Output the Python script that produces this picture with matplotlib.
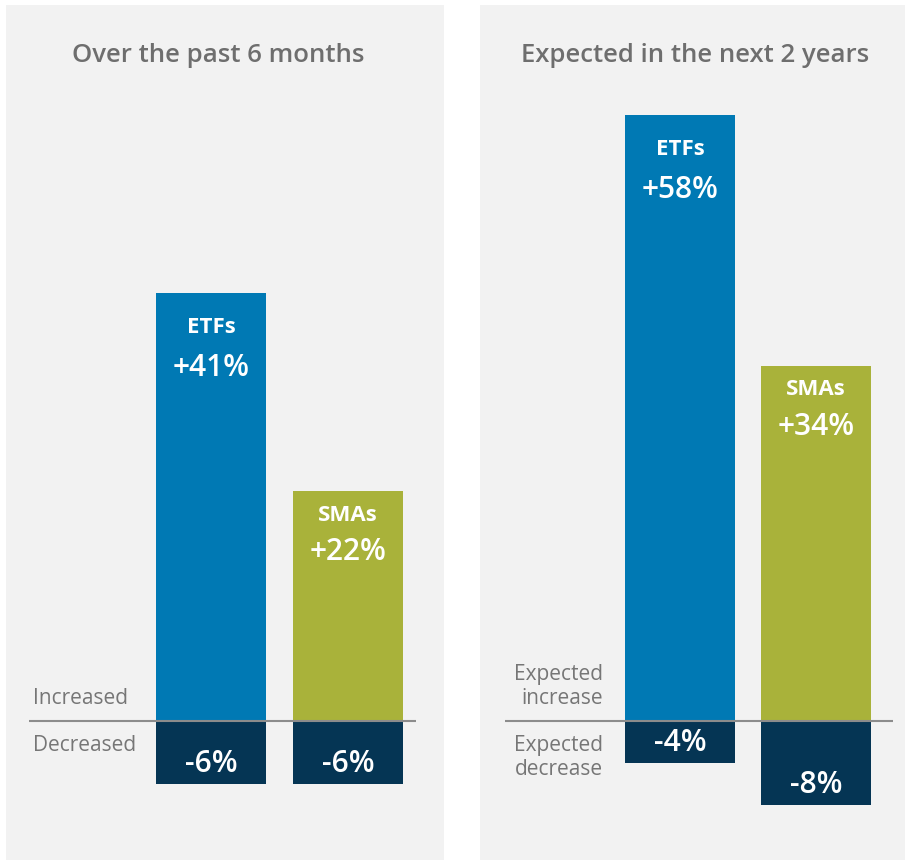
import matplotlib
matplotlib.use("Agg")
import matplotlib.pyplot as plt

plt.rcParams['font.family'] = ['Open Sans', 'DejaVu Sans']

# ---- data ----
panel_titles = ["Over the past 6 months", "Expected in the next 2 years"]
categories = ["ETFs", "SMAs"]
increase_left = [41, 22]
decrease_left = [-6, -6]
increase_right = [58, 34]
decrease_right = [-4, -8]
up_labels = ["Increased", "Expected\nincrease"]
down_labels = ["Decreased", "Expected\ndecrease"]

# ---- style ----
W, H, DPI = 905, 861, 100
PANEL_BG = "#f2f2f2"
BAR_COLORS = ["#0079b4", "#a9b23a"]
NEG_COLOR = "#053554"
TITLE_COLOR = "#6e6e6e"
LABEL_COLOR = "#767676"
LINE_COLOR = "#8c8c8c"
PX_PER_UNIT = 10.45
PT = 72 / DPI

fig = plt.figure(figsize=(W / DPI, H / DPI), dpi=DPI, facecolor="white")

panels = [
    dict(x0=6, x1=444, first_center=211, spacing=137, line=(29, 416),
         label_x=33, label_ha="left", title_x=218),
    dict(x0=480, x1=905, first_center=680, spacing=136, line=(505, 893),
         label_x=603, label_ha="right", title_x=695),
]
top_px, bot_px, base_px = 5, 860, 721
bar_w_px = 110

data = [(increase_left, decrease_left), (increase_right, decrease_right)]
offsets = [(35, 75), (24, 61)]

for p, (inc, dec), title, up, down in zip(panels, data, panel_titles, up_labels, down_labels):
    wpx = p["x1"] - p["x0"]
    hpx = bot_px - top_px
    ax = fig.add_axes([p["x0"] / W, 1 - bot_px / H, wpx / W, hpx / H])
    ax.set_facecolor(PANEL_BG)
    ax.set_xlim(0, wpx)
    ax.set_ylim(-(bot_px - base_px) / PX_PER_UNIT, (base_px - top_px) / PX_PER_UNIT)
    for s in ax.spines.values():
        s.set_visible(False)
    ax.set_xticks([])
    ax.set_yticks([])

    centers = [p["first_center"] - p["x0"] + i * p["spacing"] for i in range(len(categories))]
    ax.bar(centers, inc, width=bar_w_px, color=BAR_COLORS, zorder=2)
    ax.bar(centers, dec, width=bar_w_px, color=NEG_COLOR, zorder=2)

    ax.plot([p["line"][0] - p["x0"], p["line"][1] - p["x0"]], [0, 0],
            color=LINE_COLOR, lw=1.5, zorder=3, solid_capstyle="butt")

    for c, v, d, cat, (o1, o2) in zip(centers, inc, dec, categories, offsets):
        ax.annotate(cat, (c, v), xytext=(0, -o1 * PT), textcoords="offset points",
                    ha="center", va="center", color="white", fontsize=16,
                    fontweight="bold", zorder=4)
        ax.annotate(f"+{v}%", (c, v), xytext=(0, -o2 * PT), textcoords="offset points",
                    ha="center", va="center", color="white", fontsize=21.5,
                    fontweight="semibold", zorder=4)
        ax.annotate(f"{d}%", (c, d), xytext=(0, 20 * PT), textcoords="offset points",
                    ha="center", va="center", color="white", fontsize=21.5,
                    fontweight="semibold", zorder=4)

    lx = p["label_x"] - p["x0"]
    ax.annotate(up, (lx, 0), xytext=(0, 12 * PT), textcoords="offset points",
                ha=p["label_ha"], va="bottom", color=LABEL_COLOR, fontsize=15,
                linespacing=1.2, multialignment=p["label_ha"])
    ax.annotate(down, (lx, 0), xytext=(0, -14 * PT), textcoords="offset points",
                ha=p["label_ha"], va="top", color=LABEL_COLOR, fontsize=15,
                linespacing=1.2, multialignment=p["label_ha"])

    ax.text((p["title_x"] - p["x0"]) / wpx, 1 - (55 - top_px) / hpx, title,
            transform=ax.transAxes, ha="center", va="center", color=TITLE_COLOR,
            fontsize=18.5, fontweight="semibold")

fig.savefig("out.png", dpi=DPI, facecolor="white")
